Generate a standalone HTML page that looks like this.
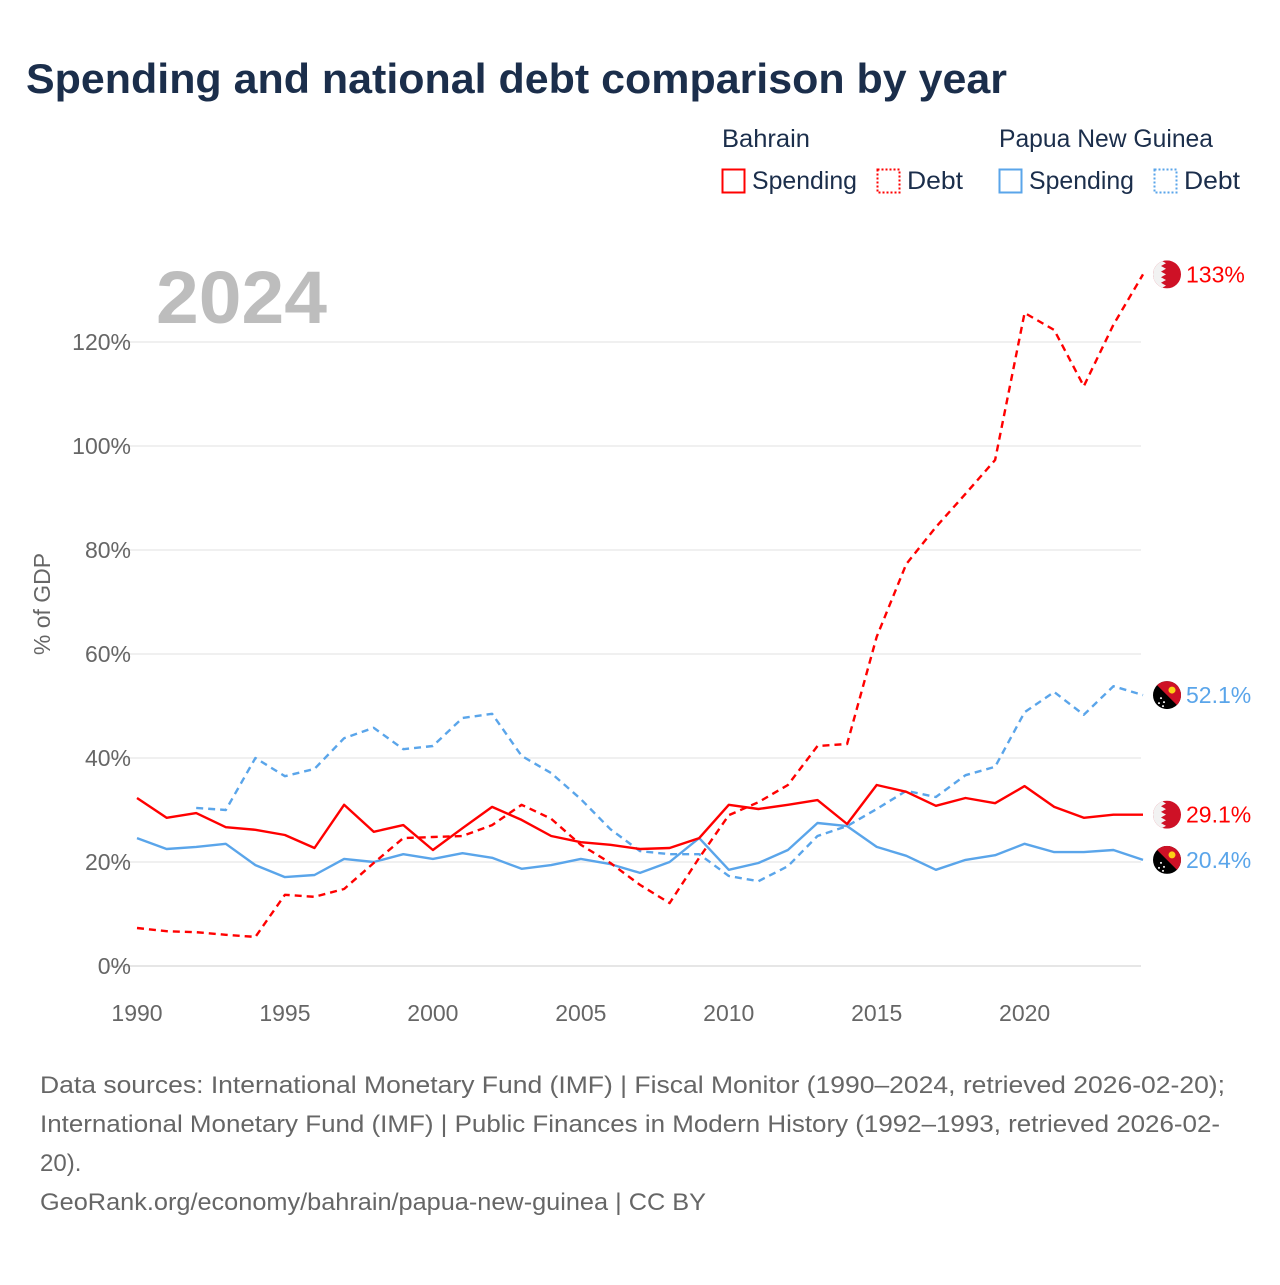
<!DOCTYPE html>
<html><head><meta charset="utf-8"><style>
body{margin:0;background:#fff;font-family:"Liberation Sans",sans-serif;}
svg text{font-family:"Liberation Sans",sans-serif;}
</style></head><body>
<svg width="1280" height="1280" viewBox="0 0 1280 1280">
<text x="26" y="93" font-size="42" font-weight="bold" fill="#1b2e4b" textLength="981" lengthAdjust="spacingAndGlyphs">Spending and national debt comparison by year</text>
<g font-size="25" fill="#1b2e4b">
<text x="722" y="147" fill="#1b2e4b" textLength="88" lengthAdjust="spacingAndGlyphs">Bahrain</text>
<text x="999" y="147" fill="#1b2e4b" textLength="214" lengthAdjust="spacingAndGlyphs">Papua New Guinea</text>
<g><rect x="722.5" y="169.5" width="22" height="23" fill="none" stroke="#f00" stroke-width="2"/><text x="752" y="189" fill="#1b2e4b" textLength="105" lengthAdjust="spacingAndGlyphs">Spending</text></g>
<g><rect x="877.5" y="169.5" width="22" height="23" fill="none" stroke="#f00" stroke-width="2" stroke-dasharray="2,2"/><text x="907" y="189" fill="#1b2e4b" textLength="56" lengthAdjust="spacingAndGlyphs">Debt</text></g>
<g><rect x="999.5" y="169.5" width="22" height="23" fill="none" stroke="#5aa5ea" stroke-width="2"/><text x="1029" y="189" fill="#1b2e4b" textLength="105" lengthAdjust="spacingAndGlyphs">Spending</text></g>
<g><rect x="1154.5" y="169.5" width="22" height="23" fill="none" stroke="#5aa5ea" stroke-width="2" stroke-dasharray="2,2"/><text x="1184" y="189" fill="#1b2e4b" textLength="56" lengthAdjust="spacingAndGlyphs">Debt</text></g>
</g>
<text x="156" y="323" font-size="74" font-weight="bold" fill="#bdbdbd" textLength="171" lengthAdjust="spacingAndGlyphs">2024</text>
<g id="grid"></g><g id="axes"></g><g id="series"></g><g id="ends"></g>
<text transform="translate(50,604) rotate(-90)" text-anchor="middle" font-size="23" fill="#666">% of GDP</text>
<g font-size="24" fill="#666">
<text x="40" y="1093" textLength="1185" lengthAdjust="spacingAndGlyphs">Data sources: International Monetary Fund (IMF) | Fiscal Monitor (1990–2024, retrieved 2026-02-20);</text>
<text x="40" y="1132" textLength="1180" lengthAdjust="spacingAndGlyphs">International Monetary Fund (IMF) | Public Finances in Modern History (1992–1993, retrieved 2026-02-</text>
<text x="40" y="1171">20).</text>
<text x="40" y="1210" textLength="666" lengthAdjust="spacingAndGlyphs">GeoRank.org/economy/bahrain/papua-new-guinea | CC BY</text>
</g>
</svg>
<script>
const years=[];for(let y=1990;y<=2024;y++)years.push(y);
const bahrainSpending=[32.3,28.5,29.4,26.7,26.2,25.2,22.7,31,25.8,27.1,22.3,26.5,30.6,28.1,25,23.8,23.3,22.5,22.7,24.6,31,30.2,31,31.9,27.3,34.8,33.5,30.8,32.3,31.3,34.6,30.6,28.5,29.1,29.1];
const bahrainDebt=[7.3,6.7,6.5,6,5.6,13.7,13.3,14.8,19.8,24.6,24.8,25,27.1,31,28.3,23.3,19.8,15.6,12.1,20.8,29,31.5,34.8,42.3,42.7,63.3,77.3,84.4,90.8,97.3,125.6,122.3,111.5,123.3,133];
const pngSpending=[24.6,22.5,22.9,23.5,19.4,17.1,17.5,20.6,20,21.5,20.6,21.7,20.8,18.7,19.4,20.6,19.6,17.9,20,24.6,18.5,19.8,22.3,27.5,26.9,22.9,21.2,18.5,20.4,21.3,23.5,21.9,21.9,22.3,20.4];
const pngDebt=[null,null,30.4,30,40,36.5,37.9,43.8,45.8,41.7,42.3,47.7,48.5,40.4,37.1,32.1,26.3,22.1,21.5,21.5,17.3,16.3,19.2,25,26.9,30.2,33.7,32.5,36.7,38.3,48.8,52.7,48.3,53.8,52.1];
const yTicks=[0,20,40,60,80,100,120];
const xTicks=[1990,1995,2000,2005,2010,2015,2020];
const endLabels=["133%","52.1%","29.1%","20.4%"];
const NS="http://www.w3.org/2000/svg";
const X=y=>137+(y-1990)*(1006/34), Y=v=>966-v*5.2;
function mk(tag,at,parent){const e=document.createElementNS(NS,tag);for(const k in at)e.setAttribute(k,at[k]);document.getElementById(parent).appendChild(e);return e;}
yTicks.forEach(t=>{
 const l=mk('line',{x1:110,x2:1141,y1:Y(t),y2:Y(t),stroke:t===0?'#ddd':'#ebebeb','stroke-width':1.5},'grid');
 
 
 const tx=mk('text',{x:131,y:Y(t)+8,'text-anchor':'end','font-size':23,fill:'#666'},'axes');tx.textContent=t+'%';
 
 
});
xTicks.forEach(t=>{
 const tx=mk('text',{x:X(t),y:1021,'text-anchor':'middle','font-size':23,fill:'#666'},'axes');tx.textContent=t;
 
 
});
function line(vals,color,dash,name){
 let d='';let pen=false;
 vals.forEach((v,i)=>{if(v==null){pen=false;return;}d+=(pen?'L':'M')+X(years[i]).toFixed(1)+','+Y(v).toFixed(1);pen=true;});
 const p=mk('path',{d:d,fill:'none',stroke:color,'stroke-width':2.4,'stroke-dasharray':dash||'none','stroke-linejoin':'round'},'series');
 
 
}
line(pngDebt,'#5aa5ea','7,5','line-png-debt');
line(pngSpending,'#5aa5ea',null,'line-png-spending');
line(bahrainDebt,'#f00','7,5','line-bahrain-debt');
line(bahrainSpending,'#f00',null,'line-bahrain-spending');
function flag(v,type,label,color,name){
 const cx=1167,cy=Y(v);
 const g=mk('g',{},'ends');
 
 
 const id='c'+name;
 const cp=mk('clipPath',{id:id},'ends');const c=document.createElementNS(NS,'circle');c.setAttribute('cx',cx);c.setAttribute('cy',cy);c.setAttribute('r',14);cp.appendChild(c);
 const gg=document.createElementNS(NS,'g');gg.setAttribute('clip-path','url(#'+id+')');g.appendChild(gg);
 const add=(t,a)=>{const e=document.createElementNS(NS,t);for(const k in a)e.setAttribute(k,a[k]);gg.appendChild(e);};
 if(type==='bh'){
  add('rect',{x:cx-14,y:cy-14,width:28,height:28,fill:'#ce1126'});
  let pts=(cx-14)+','+(cy-14);for(let i=0;i<5;i++){const y0=cy-14+i*5.6;pts+=' '+(cx-6)+','+y0+' '+(cx-1)+','+(y0+2.8)+' '+(cx-6)+','+(y0+5.6);}pts+=' '+(cx-14)+','+(cy+14);
  add('polygon',{points:pts,fill:'#f2f2f2'});
 }else{
  add('rect',{x:cx-14,y:cy-14,width:28,height:28,fill:'#000'});
  add('polygon',{points:(cx-14)+','+(cy-14)+' '+(cx+14)+','+(cy-14)+' '+(cx+14)+','+(cy+14),fill:'#ce1126'});
  add('circle',{cx:cx+5,cy:cy-5,r:3.5,fill:'#fcd116'});
  [[-6,3],[-3,7],[-8,8],[-4,11]].forEach(s=>add('circle',{cx:cx+s[0],cy:cy+s[1],r:1,fill:'#fff'}));
 }
 const t=mk('text',{x:1186,y:cy+8,'font-size':23,fill:color},'ends');t.textContent=label;
 
 
}
flag(bahrainDebt[34],'bh',endLabels[0],'#f00','end-bahrain-debt');
flag(pngDebt[34],'png',endLabels[1],'#5aa5ea','end-png-debt');
flag(bahrainSpending[34],'bh',endLabels[2],'#f00','end-bahrain-spending');
flag(pngSpending[34],'png',endLabels[3],'#5aa5ea','end-png-spending');
</script>
</body></html>
